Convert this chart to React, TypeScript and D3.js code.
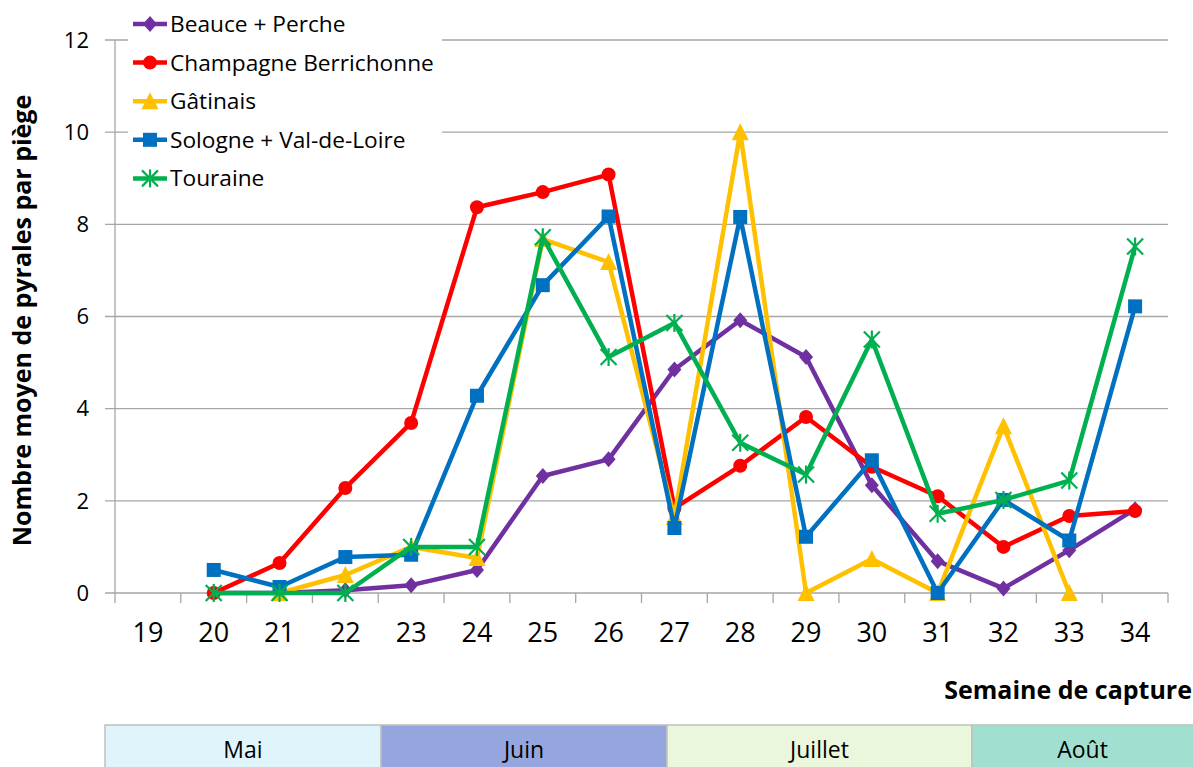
import React, { useRef, useEffect } from "react";
import * as d3 from "d3";

// semaines de capture
const weeks = ["19", "20", "21", "22", "23", "24", "25", "26", "27", "28", "29", "30", "31", "32", "33", "34"];
const yTicks = [0, 2, 4, 6, 8, 10, 12];

// null = pas de relevé
const beauce = [null, 0, 0, 0.06, 0.17, 0.5, 2.54, 2.9, 4.85, 5.92, 5.12, 2.34, 0.69, 0.1, 0.93, 1.82];
const champagne = [null, 0, 0.65, 2.28, 3.69, 8.37, 8.7, 9.08, 1.84, 2.76, 3.82, 2.74, 2.1, 1.0, 1.67, 1.78];
const gatinais = [null, null, 0, 0.39, 1.0, 0.76, 7.68, 7.18, 1.65, 10.0, 0, 0.74, 0, 3.62, 0, null];
const sologne = [null, 0.5, 0.13, 0.78, 0.83, 4.28, 6.68, 8.17, 1.41, 8.16, 1.22, 2.88, 0, 2.02, 1.14, 6.22];
const touraine = [null, 0, 0, 0, 1.0, 1.0, 7.72, 5.12, 5.86, 3.26, 2.57, 5.5, 1.72, 2.02, 2.44, 7.52];

const seriesNames = ["Beauce + Perche", "Champagne Berrichonne", "Gâtinais", "Sologne + Val-de-Loire", "Touraine"];
const seriesColors = ["#7030a0", "#ff0000", "#ffc000", "#0070c0", "#00b050"];
const seriesMarkers = ["diamond", "circle", "triangle", "square", "asterisk"];
const seriesValues = [beauce, champagne, gatinais, sologne, touraine];

const months = ["Mai", "Juin", "Juillet", "Août"];
const monthColors = ["#dff4fb", "#95a5dd", "#ebf7dc", "#a1e0d0"];
const monthEdges = [105, 381, 667, 972, 1200];

const W = 1193;
const H = 767;

function drawMarker(g: any, kind: string, x: number, y: number, color: string) {
  if (kind === "diamond") {
    g.append("path")
      .attr("d", `M${x},${y - 8}L${x + 7},${y}L${x},${y + 8}L${x - 7},${y}Z`)
      .attr("fill", color);
  } else if (kind === "circle") {
    g.append("circle").attr("cx", x).attr("cy", y).attr("r", 7).attr("fill", color);
  } else if (kind === "triangle") {
    g.append("path")
      .attr("d", `M${x},${y - 9}L${x + 8.5},${y + 8}L${x - 8.5},${y + 8}Z`)
      .attr("fill", color);
  } else if (kind === "square") {
    g.append("rect")
      .attr("x", x - 7)
      .attr("y", y - 7)
      .attr("width", 14)
      .attr("height", 14)
      .attr("fill", color);
  } else {
    const r = 8;
    const s = g.append("g").attr("stroke", color).attr("stroke-width", 2.2);
    s.append("line").attr("x1", x - r).attr("y1", y - r).attr("x2", x + r).attr("y2", y + r);
    s.append("line").attr("x1", x - r).attr("y1", y + r).attr("x2", x + r).attr("y2", y - r);
    s.append("line").attr("x1", x).attr("y1", y - r - 1).attr("x2", x).attr("y2", y + r + 1);
  }
}

const App: React.FC = () => {
  const svgRef = useRef<SVGSVGElement | null>(null);

  useEffect(() => {
    if (!svgRef.current) return;
    const svg = d3.select(svgRef.current);
    svg.selectAll("*").remove();

    const plot = { left: 115, right: 1168, top: 40, bottom: 593 };

    const x = d3.scaleBand<string>().domain(weeks).range([plot.left, plot.right]);
    const y = d3.scaleLinear().domain([0, 12]).range([plot.bottom, plot.top]);
    const cx = (i: number) => x(weeks[i])! + x.bandwidth() / 2;

    // grille
    svg
      .append("g")
      .selectAll("line")
      .data(yTicks)
      .enter()
      .append("line")
      .attr("x1", plot.left - 10)
      .attr("x2", plot.right)
      .attr("y1", (d) => y(d))
      .attr("y2", (d) => y(d))
      .attr("stroke", "#a6a6a6")
      .attr("stroke-width", 1.3);

    // axe Y
    svg
      .append("line")
      .attr("x1", plot.left)
      .attr("x2", plot.left)
      .attr("y1", plot.top)
      .attr("y2", plot.bottom)
      .attr("stroke", "#a6a6a6")
      .attr("stroke-width", 1.3);

    svg
      .append("g")
      .selectAll("text")
      .data(yTicks)
      .enter()
      .append("text")
      .attr("x", 89)
      .attr("y", (d) => y(d))
      .attr("dy", "0.35em")
      .attr("text-anchor", "end")
      .attr("font-family", "'Open Sans', sans-serif")
      .attr("font-size", 22)
      .attr("fill", "#000")
      .text((d) => d);

    // axe X : graduations entre catégories
    const edges = weeks.map((w) => x(w)!).concat([plot.right]);
    svg
      .append("g")
      .selectAll("line")
      .data(edges)
      .enter()
      .append("line")
      .attr("x1", (d) => d)
      .attr("x2", (d) => d)
      .attr("y1", plot.bottom)
      .attr("y2", plot.bottom + 10)
      .attr("stroke", "#a6a6a6")
      .attr("stroke-width", 1.3);

    svg
      .append("g")
      .selectAll("text")
      .data(weeks)
      .enter()
      .append("text")
      .attr("x", (d) => x(d)! + x.bandwidth() / 2)
      .attr("y", 642)
      .attr("text-anchor", "middle")
      .attr("font-family", "'Liberation Sans Narrow', 'Open Sans', sans-serif")
      .attr("font-size", 27)
      .attr("fill", "#000")
      .text((d) => d);

    // séries
    const line = d3
      .line<number | null>()
      .defined((d) => d !== null)
      .x((_, i) => cx(i))
      .y((d) => y(d as number));

    seriesValues.forEach((vals, si) => {
      const g = svg.append("g");
      g.append("path")
        .datum(vals)
        .attr("d", line as any)
        .attr("fill", "none")
        .attr("stroke", seriesColors[si])
        .attr("stroke-width", 4.5)
        .attr("stroke-linejoin", "round");
      vals.forEach((v, i) => {
        if (v === null) return;
        drawMarker(g, seriesMarkers[si], cx(i), y(v), seriesColors[si]);
      });
    });

    // légende
    const legend = svg.append("g");
    legend
      .append("rect")
      .attr("x", 128)
      .attr("y", 4)
      .attr("width", 314)
      .attr("height", 192)
      .attr("fill", "#fff");
    seriesNames.forEach((name, i) => {
      const ly = 24 + i * 38.6;
      legend
        .append("line")
        .attr("x1", 133)
        .attr("x2", 167)
        .attr("y1", ly)
        .attr("y2", ly)
        .attr("stroke", seriesColors[i])
        .attr("stroke-width", 4.5);
      drawMarker(legend, seriesMarkers[i], 150, ly, seriesColors[i]);
      legend
        .append("text")
        .attr("x", 170)
        .attr("y", ly)
        .attr("dy", "0.35em")
        .attr("font-family", "'Open Sans', sans-serif")
        .attr("font-size", 22.7)
        .attr("fill", "#000")
        .text(name);
    });

    // titres d'axes
    svg
      .append("text")
      .attr("transform", `translate(31,${(plot.top + plot.bottom) / 2 + 4}) rotate(-90)`)
      .attr("text-anchor", "middle")
      .attr("font-family", "'Open Sans', sans-serif")
      .attr("font-weight", "bold")
      .attr("font-size", 25)
      .attr("fill", "#000")
      .text("Nombre moyen de pyrales par piège");

    svg
      .append("text")
      .attr("x", 1192)
      .attr("y", 699)
      .attr("text-anchor", "end")
      .attr("font-family", "'Liberation Sans Narrow', 'Open Sans', sans-serif")
      .attr("font-weight", "bold")
      .attr("font-size", 25)
      .attr("fill", "#000")
      .text("Semaine de capture");

    // bandeau des mois
    months.forEach((m, i) => {
      svg
        .append("rect")
        .attr("x", monthEdges[i])
        .attr("y", 725)
        .attr("width", monthEdges[i + 1] - monthEdges[i])
        .attr("height", 50)
        .attr("fill", monthColors[i])
        .attr("stroke", "#c0c0c0")
        .attr("stroke-width", 1.5);
      svg
        .append("text")
        .attr("x", (monthEdges[i] + Math.min(monthEdges[i + 1], W)) / 2)
        .attr("y", 758)
        .attr("text-anchor", "middle")
        .attr("font-family", "'Liberation Sans Narrow', 'Open Sans', sans-serif")
        .attr("font-size", 23)
        .attr("fill", "#000")
        .text(m);
    });
  }, []);

  return (
    <svg
      ref={svgRef}
      width={W}
      height={H}
      style={{ position: "absolute", left: 0, top: 0, background: "#fff" }}
    ></svg>
  );
};

export default App;
